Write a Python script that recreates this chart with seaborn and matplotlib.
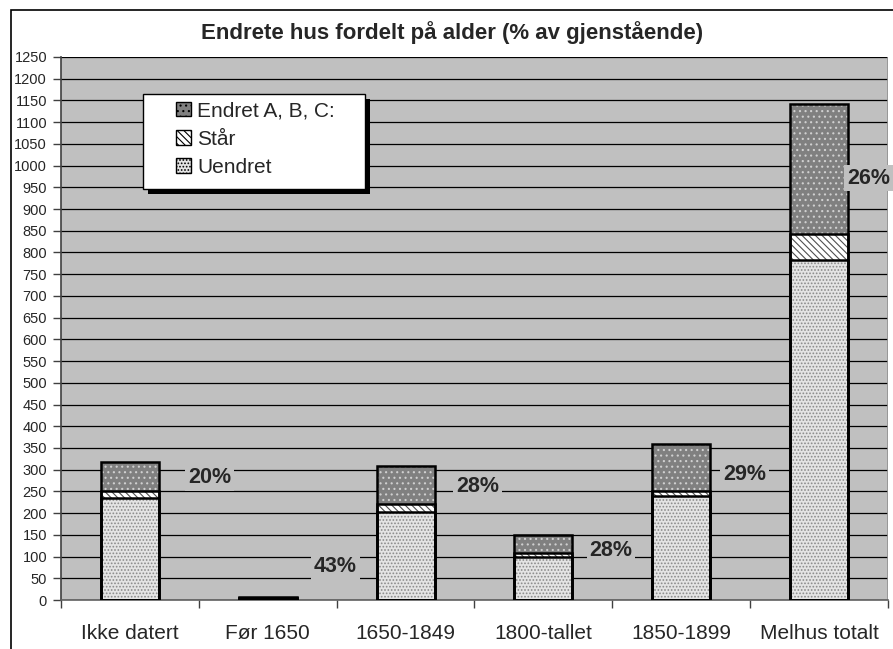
import matplotlib
matplotlib.use("Agg")
import matplotlib.pyplot as plt
import seaborn as sns
from matplotlib.patches import Rectangle

categories = ["Ikke datert", "Før 1650", "1650-1849", "1800-tallet", "1850-1899", "Melhus totalt"]
uendret = [235, 4, 203, 100, 239, 783]
staar = [16, 0, 17, 9, 12, 59]
endret = [67, 3, 89, 41, 107, 299]
pct_labels = ["20%", "43%", "28%", "28%", "29%", "26%"]
pct_x = [0.58, 1.49, 2.52, 3.49, 4.46, 5.36]
pct_y = [281, 76, 262, 115, 290, 971]

sns.set_theme(style="white")
plt.rcParams['font.family'] = ['Liberation Sans', 'DejaVu Sans']
plt.rcParams['hatch.linewidth'] = 0.8

fig = plt.figure(figsize=(8.93, 6.49), dpi=100)
ax = fig.add_axes([61 / 893, 49 / 649, 827 / 893, 543 / 649])
ax.set_facecolor('#c0c0c0')

lvl_staar = [u + s for u, s in zip(uendret, staar)]
lvl_total = [l + e for l, e in zip(lvl_staar, endret)]

w = 0.42
# cumulative layers drawn back to front
layers = [
    (lvl_total, '#808080', '#d0d0d0', '...', "Endret A, B, C:"),
    (lvl_staar, '#ffffff', '#505050', '\\\\\\\\\\', "Står"),
    (uendret, '#e4e4e4', '#8a8a8a', '.....', "Uendret"),
]
for k, (vals, face, hcol, hatch, name) in enumerate(layers):
    sns.barplot(x=categories, y=vals, color=face, width=w, ax=ax,
                linewidth=0, saturation=1, zorder=2 + 2 * k)
    sns.barplot(x=categories, y=vals, fill=False, hatch=hatch, width=w, ax=ax,
                edgecolor=hcol, linewidth=0, zorder=3 + 2 * k)
for vals in [lvl_total, lvl_staar, uendret]:
    sns.barplot(x=categories, y=vals, fill=False, width=w, ax=ax,
                edgecolor='black', linewidth=1.8, zorder=9)

ax.set_ylim(0, 1250)
ax.set_xlim(-0.5, 5.5)
ax.set_yticks(range(0, 1251, 50))
ax.yaxis.grid(True, color='black', linewidth=0.9, zorder=0)
ax.set_axisbelow(True)
ax.tick_params(axis='y', which='major', direction='out', length=6, width=1,
               color='#404040', labelsize=10.5, left=True, pad=4)
ax.set_xticks(range(len(categories)))
ax.set_xticklabels(categories, fontsize=15)
ax.tick_params(axis='x', which='major', length=0, pad=17)
ax.set_xticks([i - 0.5 for i in range(len(categories) + 1)], minor=True)
ax.tick_params(axis='x', which='minor', direction='out', length=6, width=1,
               color='#404040', bottom=True)
ax.set_xlabel('')
ax.set_ylabel('')
for side in ['top', 'right']:
    ax.spines[side].set_visible(False)
ax.spines['left'].set_color('#404040')
ax.spines['left'].set_linewidth(1.2)
ax.spines['bottom'].set_color('#606060')
ax.spines['bottom'].set_linewidth(1.2)
ax.axvline(5.5, color='#909090', linewidth=1.2, zorder=1)

for lab, xp, yp in zip(pct_labels, pct_x, pct_y):
    ax.text(xp, yp, lab, fontsize=15.5, fontweight='bold', ha='center', va='center',
            zorder=12, clip_on=False,
            bbox=dict(facecolor='#c0c0c0', edgecolor='none', pad=2))

# legend box with shadow, drawn by hand
lx0, ly0, lw, lh = 143 / 893, 1 - 189 / 649, 222 / 893, 95 / 649
ax.add_patch(Rectangle((lx0 + 5 / 893, ly0 - 5 / 649), lw, lh, transform=fig.transFigure,
                       facecolor='black', edgecolor='none', zorder=15, clip_on=False))
ax.add_patch(Rectangle((lx0, ly0), lw, lh, transform=fig.transFigure,
                       facecolor='white', edgecolor='black', linewidth=1,
                       zorder=16, clip_on=False))
handles = []
for vals, face, hcol, hatch, name in layers:
    handles.append(plt.Rectangle((0, 0), 1, 1, facecolor=face, edgecolor='black',
                                 hatch=hatch, linewidth=1, label=name))
leg = ax.legend(handles=handles, loc='upper left',
                bbox_to_anchor=(172 / 893, 1 - 97 / 649), bbox_transform=fig.transFigure,
                fontsize=15, frameon=False,
                handlelength=0.7, handleheight=0.7, handletextpad=0.3,
                labelspacing=0.45, borderpad=0.2, borderaxespad=0)
leg.set_zorder(20)

fig.text(452 / 893, 1 - 33 / 649, "Endrete hus fordelt på alder (% av gjenstående)",
         fontsize=16, fontweight='bold', ha='center', va='center')

fig.patches.append(Rectangle((11 / 893, -0.1), 2, 1 - 10 / 649 + 0.1,
                             transform=fig.transFigure, facecolor='none',
                             edgecolor='black', linewidth=1.2))

fig.savefig('out.png', dpi=100)
